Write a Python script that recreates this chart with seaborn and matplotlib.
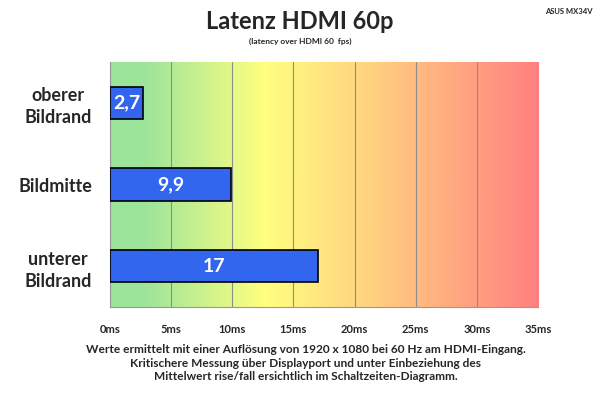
import matplotlib
matplotlib.use("Agg")
import matplotlib.pyplot as plt
import numpy as np
import pandas as pd
import seaborn as sns
from matplotlib.colors import LinearSegmentedColormap
from matplotlib.ticker import FixedLocator

categories = ["oberer\nBildrand", "Bildmitte", "unterer\nBildrand"]
latency_ms = [2.7, 9.9, 17]
value_labels = ["2,7", "9,9", "17"]
x_ticks = [0, 5, 10, 15, 20, 25, 30, 35]

data = pd.DataFrame({"pos": categories, "ms": latency_ms})

sns.set_style("white")
plt.rcParams["font.family"] = ["Lato", "DejaVu Sans"]

fig = plt.figure(figsize=(6, 3.95), dpi=100)
ax = fig.add_axes([0.1833, 0.2228, 0.7134, 0.6202])

# background gradient green -> yellow -> orange -> red
cmap = LinearSegmentedColormap.from_list(
    "lat", [(0.0, "#9be49b"), (0.08, "#9ce49a"), (0.36, "#ffff80"),
            (0.62, "#ffcf80"), (1.0, "#ff8080")])
grad = np.linspace(0, 1, 256).reshape(1, -1)
ax.imshow(grad, cmap=cmap, aspect="auto", extent=[0, 35, 2.5, -0.5], zorder=0)

sns.barplot(data=data, x="ms", y="pos", orient="h", width=0.4,
            color="#3366ee", edgecolor="black", linewidth=1.2,
            saturation=1, ax=ax, zorder=3)

for i, (v, lab) in enumerate(zip(latency_ms, value_labels)):
    ax.text(v / 2, i, lab, ha="center", va="center", color="white",
            fontsize=14, fontweight="bold", zorder=4)

ax.set_xlim(0, 35)
ax.set_ylim(2.5, -0.5)
ax.set_xticks(x_ticks)
ax.set_xticklabels([f"{t}ms" for t in x_ticks], fontsize=8, fontweight="bold")
ax.xaxis.grid(True, color="#8c8c8c", linewidth=0.8)
for ln in ax.get_xgridlines():
    ln.set_zorder(1)

ax.yaxis.set_minor_locator(FixedLocator([-0.5, 0.5, 1.5, 2.5]))
ax.tick_params(axis="y", which="major", length=0, pad=13, labelsize=12.9)
ax.tick_params(axis="y", which="minor", length=4, color="#999999", width=0.8)
ax.tick_params(axis="x", length=4, color="#999999", width=0.8, pad=8)
for t in ax.get_yticklabels():
    t.set_fontweight("bold")
    t.set_multialignment("center")
    t.set_linespacing(1.35)

for s in ["top", "right"]:
    ax.spines[s].set_visible(False)
for s in ["left", "bottom"]:
    ax.spines[s].set_color("#999999")
    ax.spines[s].set_linewidth(0.8)
    ax.spines[s].set_zorder(2)

ax.set_xlabel("")
ax.set_ylabel("")

fig.text(0.5, 0.9266, "Latenz HDMI 60p", ha="center", va="baseline",
         fontsize=17, fontweight="bold")
fig.text(0.5, 0.8886, "(latency over HDMI 60  fps)", ha="center", va="baseline",
         fontsize=6, fontweight="bold")
fig.text(0.988, 0.972, "ASUS MX34V", ha="right", va="center",
         fontsize=5.5, fontweight="bold")
fig.text(0.51, 0.081,
         "Werte ermittelt mit einer Auflösung von 1920 x 1080 bei 60 Hz am HDMI-Eingang.\n"
         "Kritischere Messung über Displayport und unter Einbeziehung des\n"
         "Mittelwert rise/fall ersichtlich im Schaltzeiten-Diagramm.",
         ha="center", va="center", fontsize=8.6, fontweight="bold", linespacing=1.33)

fig.savefig("out.png", dpi=100)
plt.close("all")
